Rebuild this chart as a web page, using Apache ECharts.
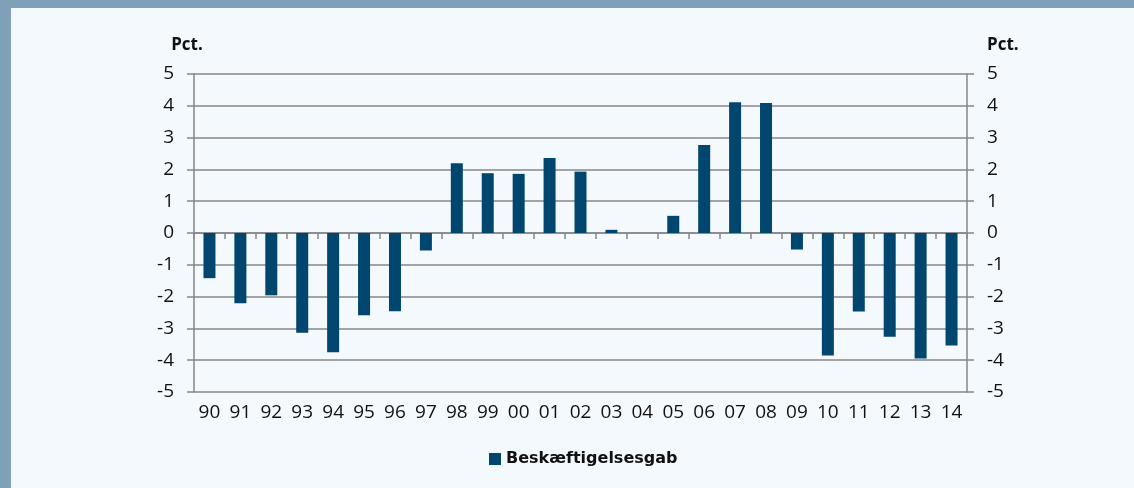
<!DOCTYPE html>
<html>
<head>
<meta charset="utf-8">
<script src="https://cdn.jsdelivr.net/npm/echarts@6/dist/echarts.min.js"></script>
<style>
html,body{margin:0;padding:0;background:#f4f9fd;}
#frame{position:absolute;left:0;top:0;width:1134px;height:488px;background:#f4f9fd;}
#topbar{position:absolute;left:0;top:0;width:1134px;height:8px;background:#7fa1b7;}
#leftbar{position:absolute;left:0;top:0;width:11px;height:488px;background:#7fa1b7;}
#chart{position:absolute;left:0;top:0;width:1134px;height:488px;}
</style>
</head>
<body>
<div id="frame"><div id="topbar"></div><div id="leftbar"></div><div id="chart"></div></div>
<script>
const categories = ['90','91','92','93','94','95','96','97','98','99','00','01','02','03','04','05','06','07','08','09','10','11','12','13','14'];
const seriesName = 'Beskæftigelsesgab';
const values = [-1.42,-2.21,-1.96,-3.14,-3.75,-2.59,-2.46,-0.55,2.19,1.88,1.86,2.36,1.93,0.10,0,0.54,2.77,4.11,4.09,-0.52,-3.85,-2.47,-3.26,-3.95,-3.54];
const yMin = -5, yMax = 5, yStep = 1;
const unitLabel = 'Pct.';

const font = 'Open Sans';
const grey = '#868686';
const chart = echarts.init(document.getElementById('chart'), null, {renderer:'canvas'});
const yAxisBase = {
  type:'value', min:yMin, max:yMax, interval:yStep,
  name: unitLabel, nameLocation:'end', nameGap:20,
  nameTextStyle:{fontFamily:font, fontWeight:'bold', fontSize:17, color:'#111'},
  axisLine:{show:true, lineStyle:{color:grey, width:1.5}},
  axisTick:{show:true, length:7, lineStyle:{color:grey, width:1.5}},
  axisLabel:{fontFamily:font, fontSize:19, color:'#111', margin:20}
};
chart.setOption({
  backgroundColor:'transparent',
  animation:false,
  grid:{left:194, right:167, top:74, bottom:96, containLabel:false},
  legend:{
    data:[seriesName], left:489, top:451, padding:0,
    icon:'rect', itemWidth:12, itemHeight:12, itemGap:6,
    textStyle:{fontFamily:'DejaVu Sans', fontWeight:'bold', fontSize:16, color:'#111'}
  },
  xAxis:[
    {type:'category', data:categories, position:'bottom',
     axisLine:{onZero:true, lineStyle:{color:grey, width:1.5}},
     axisTick:{show:true, length:6, alignWithLabel:false, lineStyle:{color:grey, width:1.5}},
     axisLabel:{show:false}, splitLine:{show:false}},
    {type:'category', data:categories, position:'bottom',
     axisLine:{show:false}, axisTick:{show:false},
     axisLabel:{fontFamily:font, fontSize:19, color:'#111', margin:11, interval:0},
     splitLine:{show:false}}
  ],
  yAxis:[
    Object.assign({}, yAxisBase, {position:'left',
      nameTextStyle:Object.assign({}, yAxisBase.nameTextStyle, {padding:[0,14,0,0]}),
      splitLine:{show:true, lineStyle:{color:grey, width:1.5}}}),
    Object.assign({}, yAxisBase, {position:'right',
      nameTextStyle:Object.assign({}, yAxisBase.nameTextStyle, {align:'left', padding:[0,0,0,20]}),
      splitLine:{show:false}})
  ],
  series:[{
    name:seriesName, type:'bar', data:values, xAxisIndex:0, yAxisIndex:0,
    barWidth:12, itemStyle:{color:'#00466e'}
  }]
});
</script>
</body>
</html>
